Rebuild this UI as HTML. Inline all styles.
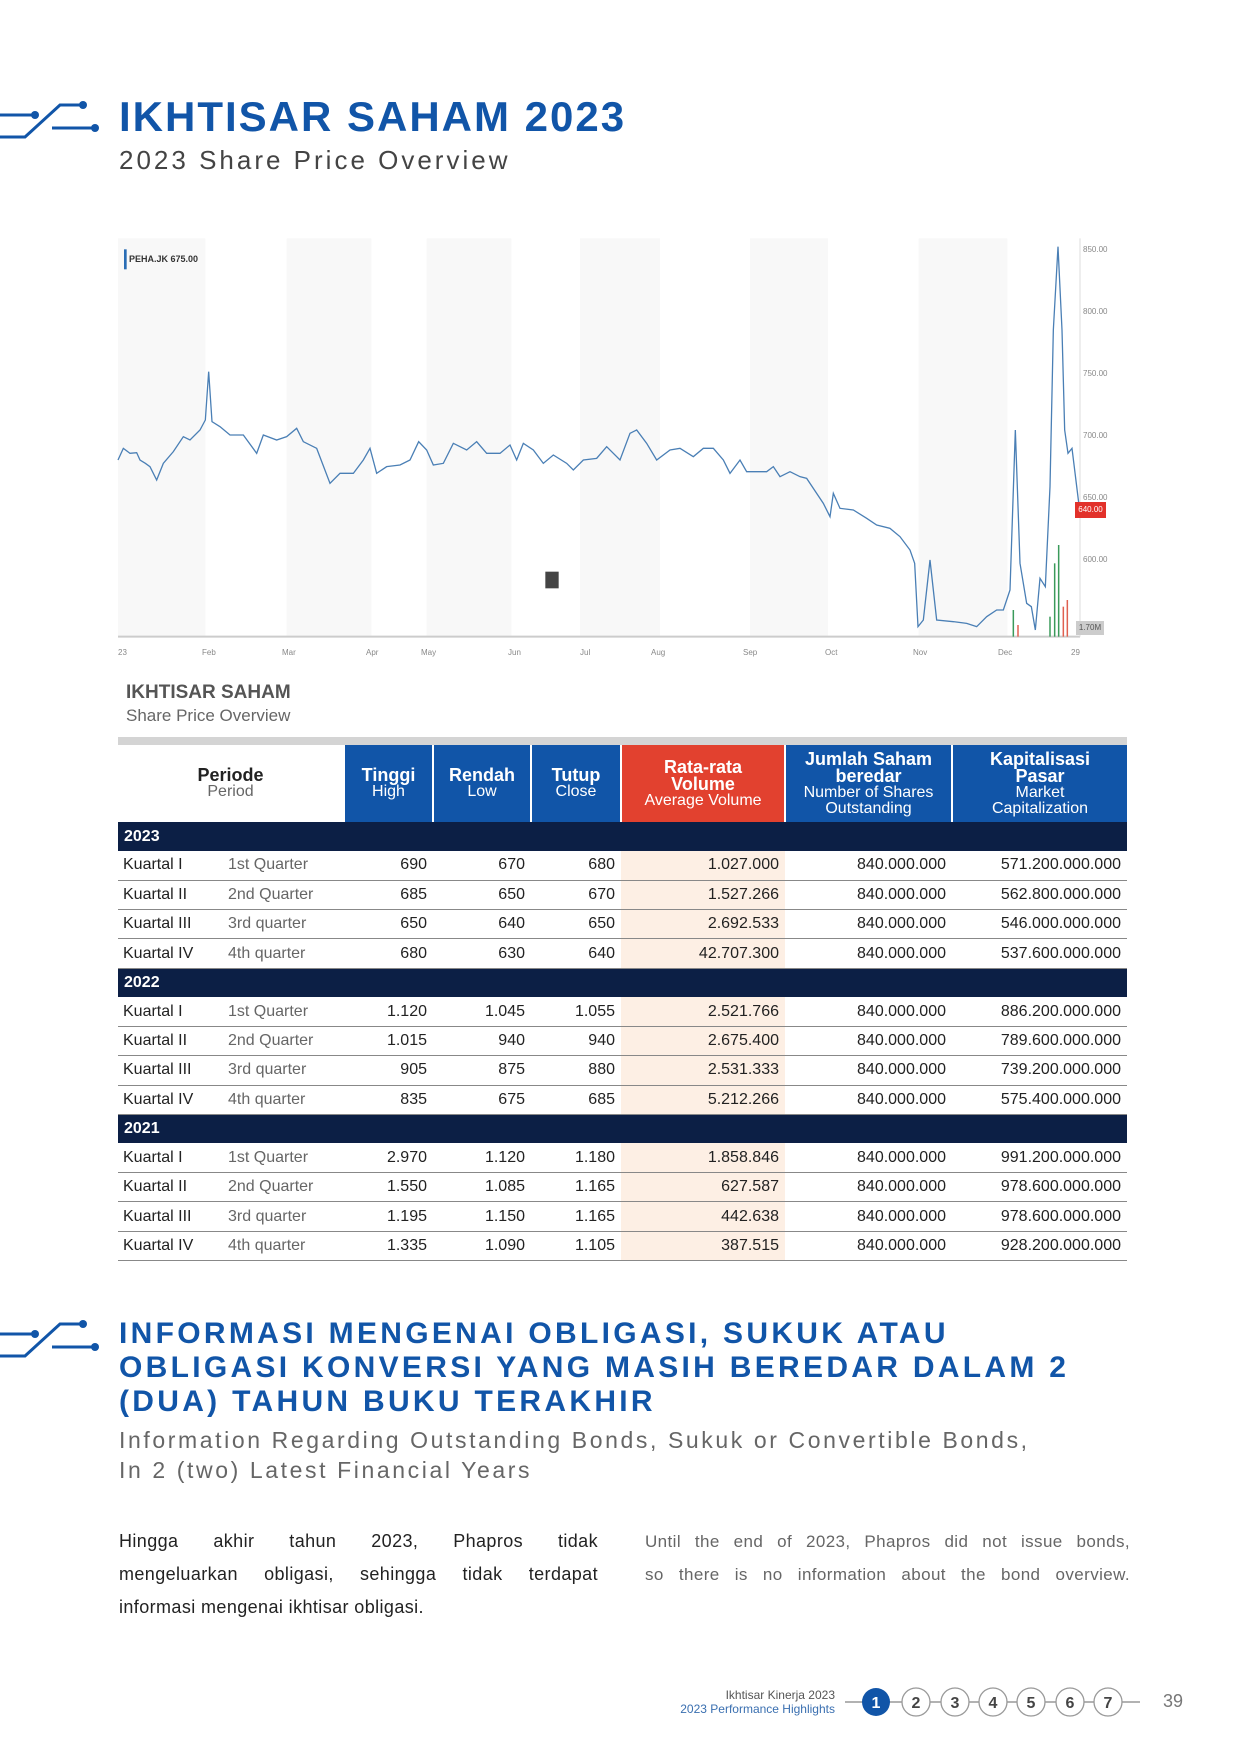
<!DOCTYPE html>
<html><head><meta charset="utf-8">
<style>
*{margin:0;padding:0;box-sizing:border-box}
body{width:1240px;height:1754px;background:#fff;position:relative;font-family:"Liberation Sans",sans-serif;overflow:hidden}
.abs{position:absolute}
.t1{left:119px;top:93px;font-size:42px;font-weight:bold;color:#1155a8;letter-spacing:2px;white-space:nowrap}
.t1s{left:119px;top:145px;font-size:26px;color:#444;letter-spacing:3px;white-space:nowrap}
.ax{font-size:8px;color:#888;position:absolute}
table{position:absolute;left:118px;top:745px;width:1009px;border-collapse:collapse;table-layout:fixed;font-size:16px;color:#222}
th{color:#fff;font-weight:bold;font-size:18px;line-height:17px;height:77px;text-align:center;border-left:2px solid #fff;vertical-align:middle}
th span{display:block;font-weight:normal;font-size:16px;line-height:16px}
th.p{background:#fff;color:#222;border-left:none}
th.p span{color:#666}
.b{background:#1155a8}.r{background:#e2412f}
tr.y td{background:#0c1f45;color:#fff;font-weight:bold;height:29px;font-size:16px;padding-left:6px}
tr.d td{height:29.3px;border-bottom:1.5px solid #888;text-align:right;padding-right:6px;vertical-align:middle}
tr.d td.k{text-align:left;padding-left:5px}
tr.d td.q{text-align:left;padding-left:0;color:#666}
tr.d td.v{background:#fdefe4}
.h2{left:119px;top:1317px;font-size:30px;line-height:34px;font-weight:bold;color:#1155a8;letter-spacing:3.3px;white-space:nowrap}
.h2s{left:119px;top:1425px;font-size:23px;line-height:30px;color:#666;letter-spacing:2.6px;white-space:nowrap}
.para{font-size:17px;line-height:33px;color:#222}
.j{text-align:justify;text-align-last:justify;white-space:nowrap;display:block}
</style></head><body>

<svg class="abs" style="left:0;top:95px" width="110" height="45" viewBox="0 0 110 45">
<g stroke="#1155a8" stroke-width="3" fill="none"><path d="M0 20 H35"/><path d="M0 42 H25 L60 10 H83"/><path d="M52 33 H95"/></g>
<g fill="#1155a8"><circle cx="35" cy="20" r="4"/><circle cx="83" cy="10" r="4"/><circle cx="95" cy="33" r="4"/></g></svg>
<div class="abs t1">IKHTISAR SAHAM 2023</div>
<div class="abs t1s">2023 Share Price Overview</div>

<!-- chart -->
<svg class="abs" style="left:100px;top:230px" width="1040" height="440" viewBox="0 0 1560 1320" preserveAspectRatio="none">
<g fill="#f8f8f8"><rect x="27" y="25" width="131" height="1195"/><rect x="280" y="25" width="127" height="1195"/><rect x="490" y="25" width="127" height="1195"/><rect x="720" y="25" width="120" height="1195"/><rect x="975" y="25" width="117" height="1195"/><rect x="1228" y="25" width="133" height="1195"/></g>
<line x1="27" y1="1220" x2="1470" y2="1220" stroke="#ccc" stroke-width="2" vector-effect="non-scaling-stroke"/>
<line x1="1470" y1="25" x2="1470" y2="1220" stroke="#ddd" stroke-width="1" vector-effect="non-scaling-stroke"/>
<g stroke-width="1.5">
<line x1="1370" y1="1220" x2="1370" y2="1140" stroke="#3a9a5a" vector-effect="non-scaling-stroke"/>
<line x1="1377" y1="1220" x2="1377" y2="1185" stroke="#e06050" vector-effect="non-scaling-stroke"/>
<line x1="1425" y1="1220" x2="1425" y2="1160" stroke="#3a9a5a" vector-effect="non-scaling-stroke"/>
<line x1="1432" y1="1220" x2="1432" y2="1000" stroke="#3a9a5a" vector-effect="non-scaling-stroke"/>
<line x1="1438" y1="1220" x2="1438" y2="945" stroke="#3a9a5a" vector-effect="non-scaling-stroke"/>
<line x1="1445" y1="1220" x2="1445" y2="1130" stroke="#e06050" vector-effect="non-scaling-stroke"/>
<line x1="1451" y1="1220" x2="1451" y2="1110" stroke="#e06050" vector-effect="non-scaling-stroke"/>
</g>
<polyline fill="none" stroke="#4a7fb5" stroke-width="1.3" vector-effect="non-scaling-stroke" points="27,690 35,655 45,670 55,668 60,690 68,700 75,710 85,750 95,700 110,665 125,620 135,630 150,600 158,570 163,425 168,575 180,590 195,615 215,615 235,670 245,615 265,630 280,620 295,595 305,635 325,655 345,760 360,730 380,730 395,690 405,655 415,730 430,710 450,705 465,690 478,635 490,660 500,705 515,700 530,640 550,660 565,635 580,670 600,670 615,645 625,690 635,640 650,660 665,700 680,675 700,700 710,720 725,690 745,685 760,650 780,690 795,610 805,600 820,640 835,690 855,660 870,655 890,680 905,655 920,655 935,690 945,730 960,690 970,725 1000,725 1010,710 1020,740 1035,725 1050,740 1060,745 1075,790 1085,820 1095,860 1100,790 1110,835 1130,840 1150,865 1165,885 1185,895 1200,920 1215,960 1222,1000 1227,1190 1235,1170 1245,990 1255,1170 1280,1175 1300,1180 1315,1190 1330,1160 1345,1140 1355,1140 1365,1080 1373,600 1380,1000 1390,1120 1397,1130 1403,1200 1410,1045 1418,1070 1425,770 1430,300 1437,50 1443,300 1447,600 1452,670 1458,655 1470,850"/>
<rect x="36" y="58" width="4" height="60" fill="#2a6db5"/>
<rect x="668" y="1025" width="20" height="50" fill="#444"/>
</svg>
<div class="abs" style="left:129px;top:254px;font-size:9px;color:#333;font-weight:bold">PEHA.JK 675.00</div>
<div class="ax" style="left:1083px;top:245px">850.00</div>
<div class="ax" style="left:1083px;top:307px">800.00</div>
<div class="ax" style="left:1083px;top:369px">750.00</div>
<div class="ax" style="left:1083px;top:431px">700.00</div>
<div class="ax" style="left:1083px;top:493px">650.00</div>
<div class="abs" style="left:1075px;top:502px;width:31px;height:16px;background:#e2312a;color:#fff;font-size:8px;line-height:16px;text-align:center">640.00</div>
<div class="ax" style="left:1083px;top:555px">600.00</div>
<div class="abs" style="left:1076px;top:621px;width:28px;height:14px;background:#ccc;font-size:8px;color:#555;line-height:14px;text-align:center">1.70M</div>
<div class="ax" style="left:118px;top:648px">23</div>
<div class="ax" style="left:202px;top:648px">Feb</div>
<div class="ax" style="left:282px;top:648px">Mar</div>
<div class="ax" style="left:366px;top:648px">Apr</div>
<div class="ax" style="left:421px;top:648px">May</div>
<div class="ax" style="left:508px;top:648px">Jun</div>
<div class="ax" style="left:580px;top:648px">Jul</div>
<div class="ax" style="left:651px;top:648px">Aug</div>
<div class="ax" style="left:743px;top:648px">Sep</div>
<div class="ax" style="left:825px;top:648px">Oct</div>
<div class="ax" style="left:913px;top:648px">Nov</div>
<div class="ax" style="left:998px;top:648px">Dec</div>
<div class="ax" style="left:1071px;top:648px">29</div>

<div class="abs" style="left:126px;top:682px;font-size:19px;font-weight:bold;color:#555">IKHTISAR SAHAM</div>
<div class="abs" style="left:126px;top:706px;font-size:17px;color:#666">Share Price Overview</div>
<div class="abs" style="left:118px;top:737px;width:1009px;height:8px;background:#d4d4d4"></div>

<table>
<colgroup><col style="width:110px"><col style="width:116px"><col style="width:89px"><col style="width:98px"><col style="width:90px"><col style="width:164px"><col style="width:167px"><col style="width:175px"></colgroup>
<tr><th class="p" colspan="2">Periode<span>Period</span></th><th class="b">Tinggi<span>High</span></th><th class="b">Rendah<span>Low</span></th><th class="b">Tutup<span>Close</span></th><th class="r">Rata-rata<br>Volume<span>Average Volume</span></th><th class="b">Jumlah Saham<br>beredar<span>Number of Shares<br>Outstanding</span></th><th class="b">Kapitalisasi<br>Pasar<span>Market<br>Capitalization</span></th></tr>
<tr class="y"><td colspan="8">2023</td></tr>
<tr class="d"><td class="k">Kuartal I</td><td class="q">1st Quarter</td><td>690</td><td>670</td><td>680</td><td class="v">1.027.000</td><td>840.000.000</td><td>571.200.000.000</td></tr>
<tr class="d"><td class="k">Kuartal II</td><td class="q">2nd Quarter</td><td>685</td><td>650</td><td>670</td><td class="v">1.527.266</td><td>840.000.000</td><td>562.800.000.000</td></tr>
<tr class="d"><td class="k">Kuartal III</td><td class="q">3rd quarter</td><td>650</td><td>640</td><td>650</td><td class="v">2.692.533</td><td>840.000.000</td><td>546.000.000.000</td></tr>
<tr class="d"><td class="k">Kuartal IV</td><td class="q">4th quarter</td><td>680</td><td>630</td><td>640</td><td class="v">42.707.300</td><td>840.000.000</td><td>537.600.000.000</td></tr>
<tr class="y"><td colspan="8">2022</td></tr>
<tr class="d"><td class="k">Kuartal I</td><td class="q">1st Quarter</td><td>1.120</td><td>1.045</td><td>1.055</td><td class="v">2.521.766</td><td>840.000.000</td><td>886.200.000.000</td></tr>
<tr class="d"><td class="k">Kuartal II</td><td class="q">2nd Quarter</td><td>1.015</td><td>940</td><td>940</td><td class="v">2.675.400</td><td>840.000.000</td><td>789.600.000.000</td></tr>
<tr class="d"><td class="k">Kuartal III</td><td class="q">3rd quarter</td><td>905</td><td>875</td><td>880</td><td class="v">2.531.333</td><td>840.000.000</td><td>739.200.000.000</td></tr>
<tr class="d"><td class="k">Kuartal IV</td><td class="q">4th quarter</td><td>835</td><td>675</td><td>685</td><td class="v">5.212.266</td><td>840.000.000</td><td>575.400.000.000</td></tr>
<tr class="y"><td colspan="8">2021</td></tr>
<tr class="d"><td class="k">Kuartal I</td><td class="q">1st Quarter</td><td>2.970</td><td>1.120</td><td>1.180</td><td class="v">1.858.846</td><td>840.000.000</td><td>991.200.000.000</td></tr>
<tr class="d"><td class="k">Kuartal II</td><td class="q">2nd Quarter</td><td>1.550</td><td>1.085</td><td>1.165</td><td class="v">627.587</td><td>840.000.000</td><td>978.600.000.000</td></tr>
<tr class="d"><td class="k">Kuartal III</td><td class="q">3rd quarter</td><td>1.195</td><td>1.150</td><td>1.165</td><td class="v">442.638</td><td>840.000.000</td><td>978.600.000.000</td></tr>
<tr class="d"><td class="k">Kuartal IV</td><td class="q">4th quarter</td><td>1.335</td><td>1.090</td><td>1.105</td><td class="v">387.515</td><td>840.000.000</td><td>928.200.000.000</td></tr>
</table>

<svg class="abs" style="left:0;top:1314px" width="110" height="45" viewBox="0 0 110 45">
<g stroke="#1155a8" stroke-width="3" fill="none"><path d="M0 20 H35"/><path d="M0 42 H25 L60 10 H83"/><path d="M52 33 H95"/></g>
<g fill="#1155a8"><circle cx="35" cy="20" r="4"/><circle cx="83" cy="10" r="4"/><circle cx="95" cy="33" r="4"/></g></svg>
<div class="abs h2">INFORMASI MENGENAI OBLIGASI, SUKUK ATAU<br>OBLIGASI KONVERSI YANG MASIH BEREDAR DALAM 2<br>(DUA) TAHUN BUKU TERAKHIR</div>
<div class="abs h2s">Information Regarding Outstanding Bonds, Sukuk or Convertible Bonds,<br>In 2 (two) Latest Financial Years</div>
<div class="abs para" style="left:119px;top:1525px;width:479px;font-size:18px;letter-spacing:0.4px">
<span class="j">Hingga akhir tahun 2023, Phapros tidak</span>
<span class="j">mengeluarkan obligasi, sehingga tidak terdapat</span>
<span style="display:block">informasi mengenai ikhtisar obligasi.</span></div>
<div class="abs para" style="left:645px;top:1525px;width:485px;color:#666;font-size:17px;letter-spacing:0.4px">
<span class="j">Until the end of 2023, Phapros did not issue bonds,</span>
<span class="j">so there is no information about the bond overview.</span></div>

<div class="abs" style="left:600px;top:1688px;width:235px;text-align:right;font-size:12px;line-height:14px;color:#555">Ikhtisar Kinerja 2023<br><span style="color:#3a6fb0">2023 Performance Highlights</span></div>
<svg class="abs" style="left:840px;top:1684px" width="310" height="36">
<line x1="5" y1="18" x2="300" y2="18" stroke="#999" stroke-width="1.5"/>
<circle cx="36" cy="18" r="14" fill="#1155a8"/>
<g fill="#fff" stroke="#999" stroke-width="1.3"><circle cx="76" cy="18" r="14"/><circle cx="115" cy="18" r="14"/><circle cx="153" cy="18" r="14"/><circle cx="191" cy="18" r="14"/><circle cx="230" cy="18" r="14"/><circle cx="268" cy="18" r="14"/></g>
<g font-family="Liberation Sans" font-weight="bold" font-size="16" text-anchor="middle" fill="#444"><text x="36" y="24" fill="#fff">1</text><text x="76" y="24">2</text><text x="115" y="24">3</text><text x="153" y="24">4</text><text x="191" y="24">5</text><text x="230" y="24">6</text><text x="268" y="24">7</text></g>
</svg>
<div class="abs" style="left:1163px;top:1691px;font-size:18px;color:#777">39</div>
</body></html>
